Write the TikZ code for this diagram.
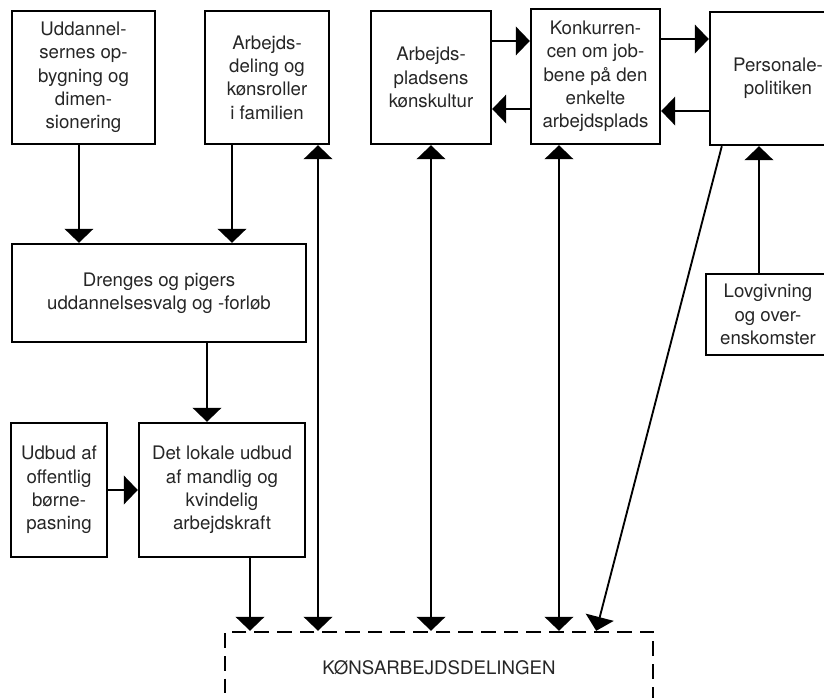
\documentclass[tikz,border=0pt]{standalone}
\usepackage{fontspec}
\setmainfont{TeX Gyre Heros}
\usetikzlibrary{arrows.meta}
\tikzset{
	box/.style={draw,line width=1.8pt,align=center,inner sep=2pt,text=black!85,font=\fontsize{14}{17.5}\selectfont},
	arr/.style={line width=1.4pt,-{Triangle[width=21.5pt,length=10.5pt]}},
	twoway/.style={line width=1.4pt,{Triangle[width=21.5pt,length=10.5pt]}-{Triangle[width=21.5pt,length=10.5pt]}}
}
\begin{document}
\begin{tikzpicture}[x=0.75pt,y=-0.75pt]
	\clip (0,0) rectangle (824,698);
	\node[box,minimum width=107.25pt,minimum height=99.75pt] (udd) at (83.5,77.5){Uddannel-\\sernes op-\\bygning og\\dimen-\\sionering};
	\node[box,minimum width=93pt,minimum height=99.75pt] (fam) at (267,77.5){Arbejds-\\deling og\\kønsroller\\i familien};
	\node[box,minimum width=90pt,minimum height=99.75pt] (kult) at (431,77.5){Arbejds-\\pladsens\\kønskultur};
	\node[box,minimum width=96.75pt,minimum height=101.25pt] (konk) at (595.5,76.5){Konkurren-\\cen om job-\\bene på den\\enkelte\\arbejdsplads};
	\node[box,minimum width=102pt,minimum height=99.75pt] (pers) at (778,78.5){Personale-\\politiken};
	\node[box,minimum width=220.5pt,minimum height=73.5pt] (dren) at (159,293){Drenges og pigers\\uddannelsesvalg og -forløb};
	\node[box,minimum width=72pt,minimum height=100.5pt] (udbud) at (59,490){Udbud af\\offentlig\\børne-\\pasning};
	\node[box,minimum width=124.5pt,minimum height=100.5pt] (lokal) at (222,490){Det lokale udbud\\af mandlig og\\kvindelig\\arbejdskraft};
	\node[box,minimum width=93pt,minimum height=60.75pt] (lov) at (768,314.5){Lovgivning\\og over-\\enskomster};
	\node[box,dash pattern=on 11pt off 6pt,minimum width=321pt,minimum height=54pt] (kon) at (439,668){KØNSARBEJDSDELINGEN};
	
	\draw[arr] ([xshift=-3.4pt]udd.south) -- ([xshift=-3.4pt]udd.south |- dren.north);
	\draw[arr] ([xshift=-26.25pt]fam.south) -- ([xshift=-26.25pt]fam.south |- dren.north);
	\draw[twoway] ([xshift=38.25pt]fam.south) -- ([xshift=38.25pt]fam.south |- kon.north);
	\draw[arr] ([xshift=-11.25pt]lokal.north |- dren.south) -- ([xshift=-11.25pt]lokal.north);
	\draw[arr] (udbud.east) -- (lokal.west);
	\draw[arr] ([xshift=21pt]lokal.south) -- ([xshift=21pt]lokal.south |- kon.north);
	\draw[twoway] (kult.south) -- (kult.south |- kon.north);
	\draw[twoway] ([xshift=-27.4pt]konk.south) -- ([xshift=-27.4pt]konk.south |- kon.north);
	\draw[arr] ([xshift=9.75pt]pers.south west) -- ([xshift=-43.5pt]kon.north east);
	\draw[arr] ([xshift=-6.75pt]lov.north) -- ([xshift=-6.75pt]lov.north |- pers.south);
	\draw[arr] ([yshift=27.4pt]kult.east) -- ([yshift=27.4pt]kult.east -| konk.west);
	\draw[arr] ([yshift=-24.4pt]konk.west) -- ([yshift=-24.4pt]konk.west -| kult.east);
	\draw[arr] ([yshift=28.1pt]konk.east) -- ([yshift=28.1pt]konk.east -| pers.west);
	\draw[arr] ([yshift=-24.4pt]pers.west) -- ([yshift=-24.4pt]pers.west -| konk.east);
\end{tikzpicture}
\end{document}
